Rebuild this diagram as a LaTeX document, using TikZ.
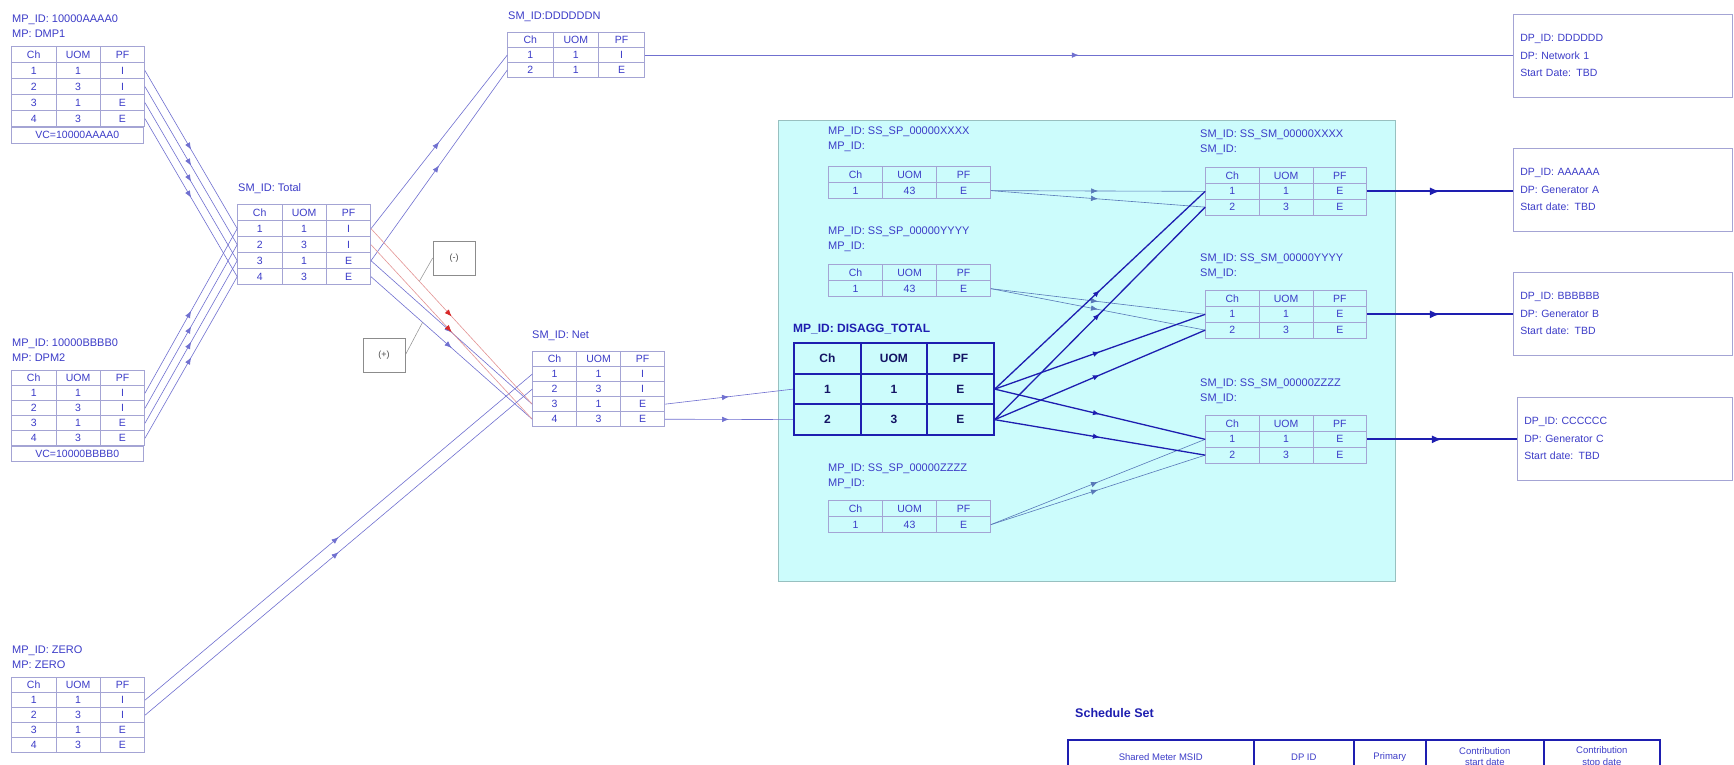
\documentclass[tikz,border=0pt]{standalone}
\usepackage{fontspec}
\setmainfont{Liberation Sans}
\usetikzlibrary{arrows.meta,positioning,matrix,decorations.markings}
\definecolor{MVTxt}{HTML}{3C3CC8}
\definecolor{MVGrid}{HTML}{A4A4D4}
\definecolor{MVLine}{HTML}{7070D0}
\definecolor{MVDark}{HTML}{1E1EB0}
\definecolor{MVNavy}{HTML}{141464}
\definecolor{MVRed}{HTML}{D82828}
\definecolor{MVPink}{HTML}{E49494}
\definecolor{MVCyan}{HTML}{CCFCFC}
\definecolor{MVEdge}{HTML}{98C0C0}
\definecolor{MVTeal}{HTML}{5878B8}

\begin{document}
\begin{tikzpicture}[
  x=1pt, y=-1pt,
  lbl/.style={anchor=north west, inner sep=0pt, align=left, text=MVTxt, font=\fontsize{11}{15}\selectfont},
  cell/.style={draw=MVGrid, line width=0.6pt, minimum width=44.4pt, minimum height=15pt, inner sep=0pt, text=MVTxt, font=\fontsize{10.5}{10.5}\selectfont},
  tab/.style={matrix of nodes, nodes={cell}, column sep=-0.6pt, row sep=-0.6pt, inner sep=0pt, anchor=north west},
  widetab/.style={tab, nodes={minimum width=54pt, minimum height=16pt}},
  dcell/.style={draw=MVDark, line width=2pt, minimum width=66.5pt, minimum height=30.5pt, inner sep=0pt, text=MVNavy, font=\bfseries\fontsize{12}{12}\selectfont},
  dtab/.style={matrix of nodes, nodes={dcell}, column sep=-2pt, row sep=-2pt, inner sep=0pt, anchor=north west},
  scell/.style={draw=MVDark, line width=1.6pt, minimum height=34pt, inner sep=0pt, align=center, text=MVTxt, font=\fontsize{9.5}{11.5}\selectfont},
  dpbox/.style={draw=MVGrid, line width=0.6pt, anchor=north west, minimum width=219pt, minimum height=83pt, text width=205pt, inner sep=7pt, align=left, text=MVTxt, font=\fontsize{10.5}{17.5}\selectfont},
  zone/.style={draw=MVEdge, fill=MVCyan, line width=0.8pt, anchor=north west, minimum width=617pt, minimum height=461pt},
  note/.style={draw=black!45, line width=0.6pt, minimum width=42pt, minimum height=34pt, text=black!70, font=\fontsize{9}{9}\selectfont},
  flow/.style={postaction={decorate}, decoration={markings, mark=at position #1 with {\arrow{Latex[length=7pt,width=5.5pt]}}}},
  flow/.default=0.5,
  conn/.style={MVLine, line width=0.6pt, flow},
  minusline/.style={draw=MVPink, line width=0.6pt, postaction={decorate}, decoration={markings, mark=at position 0.5 with {\arrow[MVRed]{Latex[length=7pt,width=5.5pt]}}}},
  subline/.style={MVTeal, line width=0.6pt, flow},
  dline/.style={MVDark, line width=1.3pt, flow},
  dpline/.style={MVDark, line width=1.8pt, postaction={decorate}, decoration={markings, mark=at position 0.5 with {\arrow{Latex[length=10pt,width=8pt]}}}},
  callout/.style={draw=black!45, line width=0.5pt}
]
\path[use as bounding box] (0,0) rectangle (1734,765);
\clip (0,0) rectangle (1734,765);
\fill[white] (0,0) rectangle (1734,765);

\node[zone] (zone) at (778,120) {};

% meters on the left
\node[lbl] (dmp1t) at (12,15) {MP\_ID: 10000AAAA0\\MP: DMP1};
\matrix[tab, nodes={minimum height=16pt}] (dmp1) at (11,46) {
  Ch & UOM & PF \\
  1 & 1 & I \\
  2 & 3 & I \\
  3 & 1 & E \\
  4 & 3 & E \\
};
\node[cell, minimum width=132pt, minimum height=16pt, anchor=north west] (dmp1vc) at ([yshift=0.6pt]dmp1.south west) {VC=10000AAAA0};

\node[lbl] (dpm2t) at (12,339) {MP\_ID: 10000BBBB0\\MP: DPM2};
\matrix[tab] (dpm2) at (11,370) {
  Ch & UOM & PF \\
  1 & 1 & I \\
  2 & 3 & I \\
  3 & 1 & E \\
  4 & 3 & E \\
};
\node[cell, minimum width=132pt, anchor=north west] (dpm2vc) at ([yshift=0.6pt]dpm2.south west) {VC=10000BBBB0};

\node[lbl] (zerot) at (12,646) {MP\_ID: ZERO\\MP: ZERO};
\matrix[tab] (zero) at (11,677) {
  Ch & UOM & PF \\
  1 & 1 & I \\
  2 & 3 & I \\
  3 & 1 & E \\
  4 & 3 & E \\
};

% shared meters
\node[lbl] (tott) at (238,183) {SM\_ID: Total};
\matrix[tab, nodes={minimum height=16pt}] (tot) at (237,204) {
  Ch & UOM & PF \\
  1 & 1 & I \\
  2 & 3 & I \\
  3 & 1 & E \\
  4 & 3 & E \\
};

\node[lbl] (ddnt) at (508,12) {SM\_ID:DDDDDDN};
\matrix[tab, nodes={minimum width=45.6pt}] (ddn) at (507,32) {
  Ch & UOM & PF \\
  1 & 1 & I \\
  2 & 1 & E \\
};

\node[lbl] (nett) at (532,331) {SM\_ID: Net};
\matrix[tab, nodes={minimum width=44pt}] (net) at (532,351) {
  Ch & UOM & PF \\
  1 & 1 & I \\
  2 & 3 & I \\
  3 & 1 & E \\
  4 & 3 & E \\
};

\node[note] (minus) at (454,258) {(-)};
\node[note] (plus) at (384,355) {(+)};

% disaggregation
\node[lbl] (spxt) at (828,127) {MP\_ID: SS\_SP\_00000XXXX\\MP\_ID:};
\matrix[widetab] (spx) at (828,166) {
  Ch & UOM & PF \\
  1 & 43 & E \\
};
\node[lbl] (spyt) at (828,227) {MP\_ID: SS\_SP\_00000YYYY\\MP\_ID:};
\matrix[widetab] (spy) at (828,264) {
  Ch & UOM & PF \\
  1 & 43 & E \\
};
\node[lbl] (spzt) at (828,464) {MP\_ID: SS\_SP\_00000ZZZZ\\MP\_ID:};
\matrix[widetab] (spz) at (828,500) {
  Ch & UOM & PF \\
  1 & 43 & E \\
};

\node[lbl, font=\bfseries\fontsize{12}{12}\selectfont, text=MVDark] (dist) at (793,324) {MP\_ID: DISAGG\_TOTAL};
\matrix[dtab] (dis) at (793,342) {
  Ch & UOM & PF \\
  1 & 1 & E \\
  2 & 3 & E \\
};

\node[lbl] (smxt) at (1200,130) {SM\_ID: SS\_SM\_00000XXXX\\SM\_ID:};
\matrix[tab, nodes={minimum width=53.7pt, minimum height=15.8pt}] (smx) at (1205,167) {
  Ch & UOM & PF \\
  1 & 1 & E \\
  2 & 3 & E \\
};
\node[lbl] (smyt) at (1200,254) {SM\_ID: SS\_SM\_00000YYYY\\SM\_ID:};
\matrix[tab, nodes={minimum width=53.7pt, minimum height=15.8pt}] (smy) at (1205,290) {
  Ch & UOM & PF \\
  1 & 1 & E \\
  2 & 3 & E \\
};
\node[lbl] (smzt) at (1200,379) {SM\_ID: SS\_SM\_00000ZZZZ\\SM\_ID:};
\matrix[tab, nodes={minimum width=53.7pt, minimum height=15.8pt}] (smz) at (1205,415) {
  Ch & UOM & PF \\
  1 & 1 & E \\
  2 & 3 & E \\
};

% delivery points
\node[dpbox] (dpn) at (1513,14) {DP\_ID: DDDDDD\\DP: Network 1\\Start Date: TBD};
\node[dpbox] (dpa) at (1513,148) {DP\_ID: AAAAAA\\DP: Generator A\\Start date: TBD};
\node[dpbox] (dpb) at (1513,272) {DP\_ID: BBBBBB\\DP: Generator B\\Start date: TBD};
\node[dpbox, minimum width=215pt, text width=201pt] (dpc) at (1517,397) {DP\_ID: CCCCCC\\DP: Generator C\\Start date: TBD};

% schedule set
\node[lbl, font=\bfseries\fontsize{12.5}{12.5}\selectfont, text=MVDark] (schedt) at (1075,708) {Schedule Set};
\node[scell, minimum width=186pt, anchor=north west] (sc1) at (1067,739) {Shared Meter MSID};
\node[scell, minimum width=100pt, right=-1.6pt of sc1] (sc2) {DP ID};
\node[scell, minimum width=72pt, right=-1.6pt of sc2] (sc3) {Primary};
\node[scell, minimum width=118pt, right=-1.6pt of sc3] (sc4) {Contribution\\start date};
\node[scell, minimum width=116pt, right=-1.6pt of sc4] (sc5) {Contribution\\stop date};

% connectors
\draw[conn] (dmp1-2-3.east) -- (tot-2-1.west);
\draw[conn] (dmp1-3-3.east) -- (tot-3-1.west);
\draw[conn] (dmp1-4-3.east) -- (tot-4-1.west);
\draw[conn] (dmp1-5-3.east) -- (tot-5-1.west);
\draw[conn] (dpm2-2-3.east) -- (tot-2-1.west);
\draw[conn] (dpm2-3-3.east) -- (tot-3-1.west);
\draw[conn] (dpm2-4-3.east) -- (tot-4-1.west);
\draw[conn] (dpm2-5-3.east) -- (tot-5-1.west);
\draw[conn] (tot-2-3.east) -- (ddn-2-1.west);
\draw[conn] (tot-4-3.east) -- (ddn-3-1.west);
\draw[conn] (tot-4-3.east) -- (net-4-1.west);
\draw[conn] (tot-5-3.east) -- coordinate[pos=0.32] (ptip) (net-5-1.west);
\draw[minusline] (tot-2-3.east) -- coordinate[pos=0.3] (mtip) (net-4-1.west);
\draw[minusline] (tot-3-3.east) -- (net-5-1.west);
\draw[callout] (minus.west) -- (mtip);
\draw[callout] (plus.east) -- (ptip);
\draw[conn] (zero-2-3.east) -- (net-2-1.west);
\draw[conn] (zero-3-3.east) -- (net-3-1.west);
\draw[conn] (net-4-3.east) -- (dis-2-1.west);
\draw[conn] (net-5-3.east) -- (dis-3-1.west);
\draw[conn] (ddn-2-3.east) -- (ddn-2-3.east -| dpn.west);

\draw[subline] (spx-2-3.east) -- (smx-2-1.west);
\draw[subline] (spx-2-3.east) -- (smx-3-1.west);
\draw[subline] (spy-2-3.east) -- (smy-2-1.west);
\draw[subline] (spy-2-3.east) -- (smy-3-1.west);
\draw[subline] (spz-2-3.east) -- (smz-2-1.west);
\draw[subline] (spz-2-3.east) -- (smz-3-1.west);
\draw[dline] (dis-2-3.east) -- (smx-2-1.west);
\draw[dline] (dis-2-3.east) -- (smy-2-1.west);
\draw[dline] (dis-2-3.east) -- (smz-2-1.west);
\draw[dline] (dis-3-3.east) -- (smx-3-1.west);
\draw[dline] (dis-3-3.east) -- (smy-3-1.west);
\draw[dline] (dis-3-3.east) -- (smz-3-1.west);

\draw[dpline] (smx-2-3.east) -- (smx-2-3.east -| dpa.west);
\draw[dpline] (smy-2-3.east) -- (smy-2-3.east -| dpb.west);
\draw[dpline] (smz-2-3.east) -- (smz-2-3.east -| dpc.west);
\end{tikzpicture}
\end{document}
